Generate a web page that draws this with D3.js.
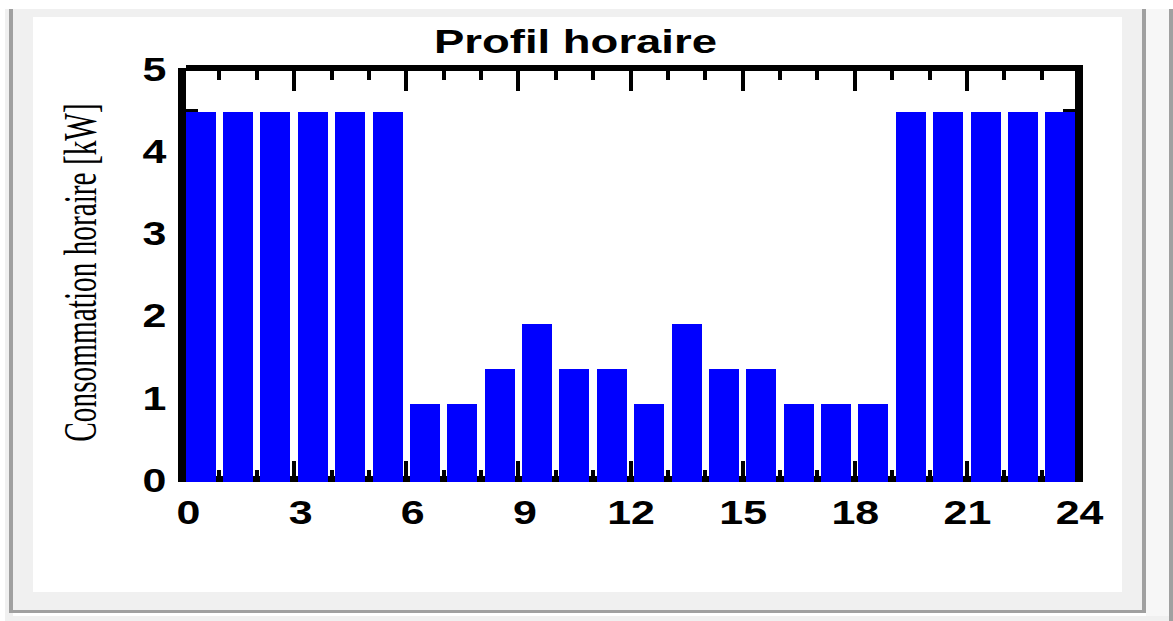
<!DOCTYPE html>
<html>
<head>
<meta charset="utf-8">
<script src="https://cdn.jsdelivr.net/npm/d3@7"></script>
<style>
  html, body { margin: 0; padding: 0; background: #ffffff; }
  svg { display: block; }
</style>
</head>
<body>
<script>
// Hourly consumption profile (kW) for each hour of the day
const hours = [0, 1, 2, 3, 4, 5, 6, 7, 8, 9, 10, 11, 12, 13, 14, 15, 16, 17, 18, 19, 20, 21, 22, 23];
const consumption = [4.5, 4.5, 4.5, 4.5, 4.5, 4.5, 0.95, 0.95, 1.37, 1.92, 1.37, 1.37,
                     0.95, 1.92, 1.37, 1.37, 0.95, 0.95, 0.95, 4.5, 4.5, 4.5, 4.5, 4.5];
const xTickLabels = [0, 3, 6, 9, 12, 15, 18, 21, 24];
const yTickLabels = [0, 1, 2, 3, 4, 5];
const hourTicks = d3.range(0, 25);
const valueTicks = d3.range(0, 5.01, 0.5);

const W = 1173, H = 621;
const svg = d3.select("body").append("svg")
  .attr("width", W).attr("height", H)
  .attr("shape-rendering", "crispEdges");

// Window frame around the chart panel
const chrome = svg.append("g");
chrome.append("rect").attr("x", 5).attr("y", 9).attr("width", 1164).attr("height", 612).attr("fill", "#f0f0f0");
chrome.append("rect").attr("x", 13).attr("y", 613).attr("width", 1133).attr("height", 3).attr("fill", "#ffffff");
chrome.append("rect").attr("x", 1146).attr("y", 9).attr("width", 23).attr("height", 607).attr("fill", "#f7f7f7");
chrome.append("rect").attr("x", 9).attr("y", 9).attr("width", 4).attr("height", 604).attr("fill", "#a0a0a0");
chrome.append("rect").attr("x", 9).attr("y", 610).attr("width", 1137).attr("height", 3).attr("fill", "#a0a0a0");
chrome.append("rect").attr("x", 1142).attr("y", 9).attr("width", 4).attr("height", 604).attr("fill", "#a0a0a0");
chrome.append("rect").attr("x", 1169).attr("y", 9).attr("width", 4).attr("height", 612).attr("fill", "#a0a0a0");
chrome.append("rect").attr("x", 33).attr("y", 17).attr("width", 1089).attr("height", 575).attr("fill", "#ffffff");

// Scales
const x = d3.scaleLinear().domain([0, 24]).range([182, 1079]);
const band = d3.scaleBand().domain(hours).range([182, 1079]).paddingInner(0.2).paddingOuter(0.1);
const y = d3.scaleLinear().domain([0, 5]).range([482, 71]);

const plot = svg.append("g");

// Bottom axis line and ticks (sit underneath the bars)
plot.append("rect")
  .attr("x", x(0) - 4).attr("y", y(0) - 6)
  .attr("width", x(24) - x(0) + 8).attr("height", 6).attr("fill", "#000");
plot.selectAll(".tick-bottom").data(hourTicks).join("rect")
  .attr("x", d => x(d) - 2).attr("width", 4)
  .attr("y", d => y(0) - (d % 3 === 0 ? 21 : 12))
  .attr("height", d => (d % 3 === 0 ? 21 : 12))
  .attr("fill", "#000");

// Left / right value ticks
plot.selectAll(".tick-left").data(valueTicks).join("rect")
  .attr("x", x(0) + 4).attr("y", d => y(d) - 3)
  .attr("width", d => (Number.isInteger(d) ? 21 : 12)).attr("height", 3)
  .attr("fill", "#000");
plot.selectAll(".tick-right").data(valueTicks).join("rect")
  .attr("x", d => x(24) - 4 - (Number.isInteger(d) ? 21 : 12)).attr("y", d => y(d) - 3)
  .attr("width", d => (Number.isInteger(d) ? 21 : 12)).attr("height", 3)
  .attr("fill", "#000");

// Bars
plot.selectAll(".bar").data(hours).join("rect")
  .attr("x", d => band(d))
  .attr("width", band.bandwidth())
  .attr("y", (d, i) => y(consumption[i]))
  .attr("height", (d, i) => y(0) - y(consumption[i]))
  .attr("fill", "#0000ff");

// Top frame line and ticks
plot.append("rect")
  .attr("x", x(0) + 4).attr("y", y(5) - 6)
  .attr("width", x(24) - x(0)).attr("height", 6).attr("fill", "#000");
plot.selectAll(".tick-top").data(hourTicks).join("rect")
  .attr("x", d => x(d) - 2).attr("width", 4)
  .attr("y", y(5))
  .attr("height", d => (d % 3 === 0 ? 20 : 9))
  .attr("fill", "#000");

// Left and right frame lines
plot.append("rect")
  .attr("x", x(0) - 4).attr("y", y(5) - 3)
  .attr("width", 8).attr("height", y(0) - y(5) + 3).attr("fill", "#000");
plot.append("rect")
  .attr("x", x(24) - 4).attr("y", y(5) - 6)
  .attr("width", 8).attr("height", y(0) - y(5) + 6).attr("fill", "#000");

const tickFont = "'Liberation Sans', Arial, sans-serif";

// X axis labels
const xAxis = svg.append("g")
  .attr("transform", `translate(0,${y(0)})`)
  .call(d3.axisBottom(x).tickValues(xTickLabels).tickSize(0).tickFormat(d3.format("d")));
xAxis.select(".domain").remove();
xAxis.selectAll("text")
  .attr("y", 42).attr("dy", 0)
  .attr("x", d => (String(d).length === 1 ? 6 : 0) / 1.3)
  .attr("transform", "scale(1.3,1)")
  .attr("fill", "#000")
  .style("font-family", tickFont).style("font-weight", "bold").style("font-size", "33px");

// Y axis labels
const yAxis = svg.append("g")
  .attr("transform", `translate(${x(0)},0)`)
  .call(d3.axisLeft(y).tickValues(yTickLabels).tickSize(0).tickFormat(d3.format("d")));
yAxis.select(".domain").remove();
yAxis.selectAll("text")
  .attr("x", -27.5 / 1.3).attr("dy", 9.3)
  .attr("text-anchor", "middle")
  .attr("transform", "scale(1.3,1)")
  .attr("fill", "#000")
  .style("font-family", tickFont).style("font-weight", "bold").style("font-size", "33px");

// Title
svg.append("text")
  .attr("x", 575.5).attr("y", 53)
  .attr("text-anchor", "middle")
  .attr("textLength", 283).attr("lengthAdjust", "spacingAndGlyphs")
  .style("font-family", tickFont).style("font-weight", "bold").style("font-size", "33px")
  .attr("fill", "#000")
  .text("Profil horaire");

// Y axis title: narrow serif lettering, tall across the axis
svg.append("text")
  .attr("transform", "translate(96,272.5) rotate(-90) scale(1,1.57)")
  .attr("text-anchor", "middle")
  .style("font-family", "'Liberation Serif', 'Times New Roman', serif").style("font-size", "29.3px")
  .attr("fill", "#000")
  .text("Consommation horaire [kW]");
</script>
</body>
</html>
